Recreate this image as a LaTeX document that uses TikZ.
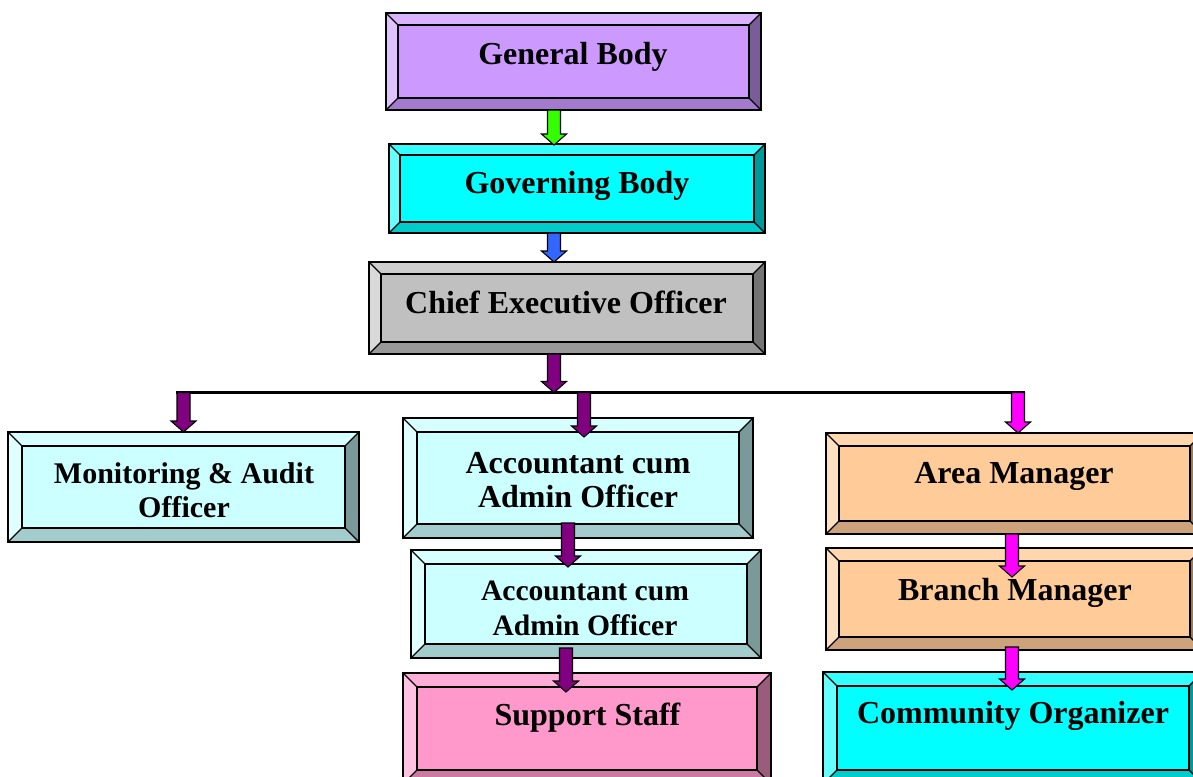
\documentclass[tikz,border=0pt]{standalone}
\usepackage{fontspec}
\setmainfont{Liberation Serif}
\usetikzlibrary{calc}
% colour sets: face, top, left, right, bottom
\definecolor{pF}{HTML}{CC99FF}\definecolor{pT}{HTML}{D9B3FF}\definecolor{pL}{HTML}{E0C2FF}\definecolor{pR}{HTML}{7A5C99}\definecolor{pB}{HTML}{A37ACC}
\definecolor{cF}{HTML}{00FFFF}\definecolor{cT}{HTML}{33FFFF}\definecolor{cL}{HTML}{66FFFF}\definecolor{cR}{HTML}{009999}\definecolor{cB}{HTML}{00CCCC}
\definecolor{gF}{HTML}{C0C0C0}\definecolor{gT}{HTML}{CDCDCD}\definecolor{gL}{HTML}{D9D9D9}\definecolor{gR}{HTML}{737373}\definecolor{gB}{HTML}{999999}
\definecolor{lF}{HTML}{CCFFFF}\definecolor{lT}{HTML}{D6FFFF}\definecolor{lL}{HTML}{E0FFFF}\definecolor{lR}{HTML}{7A9999}\definecolor{lB}{HTML}{A3CCCC}
\definecolor{kF}{HTML}{FF99CC}\definecolor{kT}{HTML}{FFADD6}\definecolor{kL}{HTML}{FFC2E0}\definecolor{kR}{HTML}{995C7A}\definecolor{kB}{HTML}{CC7AA3}
\definecolor{oF}{HTML}{FFCC99}\definecolor{oT}{HTML}{FFD6AD}\definecolor{oL}{HTML}{FFE0C2}\definecolor{oR}{HTML}{997A5C}\definecolor{oB}{HTML}{CCA37A}
\definecolor{arGreen}{HTML}{33FF00}
\definecolor{arBlue}{HTML}{3366FF}
\definecolor{arPurple}{HTML}{800080}
\definecolor{arMagenta}{HTML}{FF00FF}
\tikzset{
  edge/.style={draw=black, line width=1.3pt, line join=miter},
  blockarrow/.style={draw=black, line width=1.1pt, line join=miter},
  label/.style={font=\bfseries\fontsize{32}{36}\selectfont, anchor=base, align=center, inner sep=0pt},
  hline/.style={draw=black, line width=3pt},
}
% \bevelbox{name}{x1}{y1}{x2}{y2}{bevel}{colour prefix}
\newcommand\bevelbox[7]{%
  \node[minimum width={(#4-#2)*1pt}, minimum height={(#5-#3)*1pt}, inner sep=0pt, outer sep=0pt]
     (#1) at ({(#2+#4)/2},{(#3+#5)/2}) {};
  \fill[#7F] (#2,#3) rectangle (#4,#5);
  \fill[#7T] (#2,#3) -- (#4,#3) -- (#4-#6,#3+#6) -- (#2+#6,#3+#6) -- cycle;
  \fill[#7L] (#2,#3) -- (#2+#6,#3+#6) -- (#2+#6,#5-#6) -- (#2,#5) -- cycle;
  \fill[#7R] (#4,#3) -- (#4,#5) -- (#4-#6,#5-#6) -- (#4-#6,#3+#6) -- cycle;
  \fill[#7B] (#2,#5) -- (#2+#6,#5-#6) -- (#4-#6,#5-#6) -- (#4,#5) -- cycle;
  \draw[edge] (#2,#3) rectangle (#4,#5);
  \draw[edge] (#2+#6,#3+#6) rectangle (#4-#6,#5-#6);
  \draw[edge] (#2,#3) -- (#2+#6,#3+#6) (#4,#3) -- (#4-#6,#3+#6)
              (#2,#5) -- (#2+#6,#5-#6) (#4,#5) -- (#4-#6,#5-#6);
}
% \barrow{colour}{x}{from}{to}
\newcommand\barrow[4]{%
  \draw[blockarrow, fill=#1] let \p1=(#3), \p2=(#4) in
    (#2pt-6.5pt,\y1) -- (#2pt+6.5pt,\y1) -- (#2pt+6.5pt,\y2+11pt) -- (#2pt+12.5pt,\y2+11pt)
    -- (#2pt,\y2) -- (#2pt-12.5pt,\y2+11pt) -- (#2pt-6.5pt,\y2+11pt) -- cycle;
}
\begin{document}
\begin{tikzpicture}[x=1pt,y=-1pt]
\useasboundingbox (0,0) rectangle (1193,776);
\clip (0,0) rectangle (1193,776);

% boxes
\bevelbox{gb}{386}{13}{761}{110}{12}{p}
\bevelbox{govb}{389}{144}{765}{233}{11}{c}
\bevelbox{ceo}{369}{262}{765}{354}{12}{g}
\bevelbox{mon}{8}{432}{359}{542}{14}{l}
\bevelbox{acc1}{403}{418}{753}{538}{14}{l}
\bevelbox{acc2}{411}{550}{761}{658}{14}{l}
\bevelbox{sup}{403}{673}{771}{784}{14}{k}
\bevelbox{area}{826}{433}{1203}{534}{13}{o}
\bevelbox{branch}{826}{548}{1203}{650}{13}{o}
\bevelbox{comm}{823}{672}{1203}{784}{14}{c}

% labels (multi-line labels are placed by the baseline of their last line)
\node[label] (tgb) at (573,64) {General Body};
\node[label] (tgov) at (577,193) {Governing Body};
\node[label] (tceo) at (566,313) {Chief Executive Officer};
\node[label, font=\bfseries\fontsize{30}{34}\selectfont] (tmon) at (184,517) {Monitoring \& Audit\\Officer};
\node[label, font=\bfseries\fontsize{32}{34}\selectfont] (tacc1) at (578,507) {Accountant cum\\Admin Officer};
\node[label, font=\bfseries\fontsize{29.6}{35}\selectfont] (tacc2) at (585,635) {Accountant cum\\Admin Officer};
\node[label] (tsup) at (587.5,725) {Support Staff};
\node[label] (tarea) at (1014,483) {Area Manager};
\node[label] (tbranch) at (1015,600) {Branch Manager};
\node[label] (tcomm) at (1013,723) {Community Organizer};

% horizontal distribution line
\coordinate (hL) at (176,392.5);
\coordinate (hR) at (1025,392.5);
\draw[hline] (hL) -- (hR);

% arrows
\barrow{arGreen}{554}{gb.south}{$(govb.north)+(0,1)$}
\barrow{arBlue}{554}{govb.south}{ceo.north}
\barrow{arPurple}{554}{ceo.south}{hL}
\barrow{arPurple}{183.5}{hL}{mon.north}
\barrow{arPurple}{584}{hL}{$(acc1.north)+(0,19)$}
\barrow{arMagenta}{1018}{hR}{area.north}
\barrow{arPurple}{568}{$(acc1.south)+(0,-15)$}{$(acc2.north)+(0,17)$}
\barrow{arPurple}{566}{$(acc2.south)+(0,-10)$}{$(sup.north)+(0,19)$}
\barrow{arMagenta}{1012}{area.south}{$(branch.north)+(0,29)$}
\barrow{arMagenta}{1012}{$(branch.south)+(0,-3)$}{$(comm.north)+(0,18)$}
\end{tikzpicture}
\end{document}
